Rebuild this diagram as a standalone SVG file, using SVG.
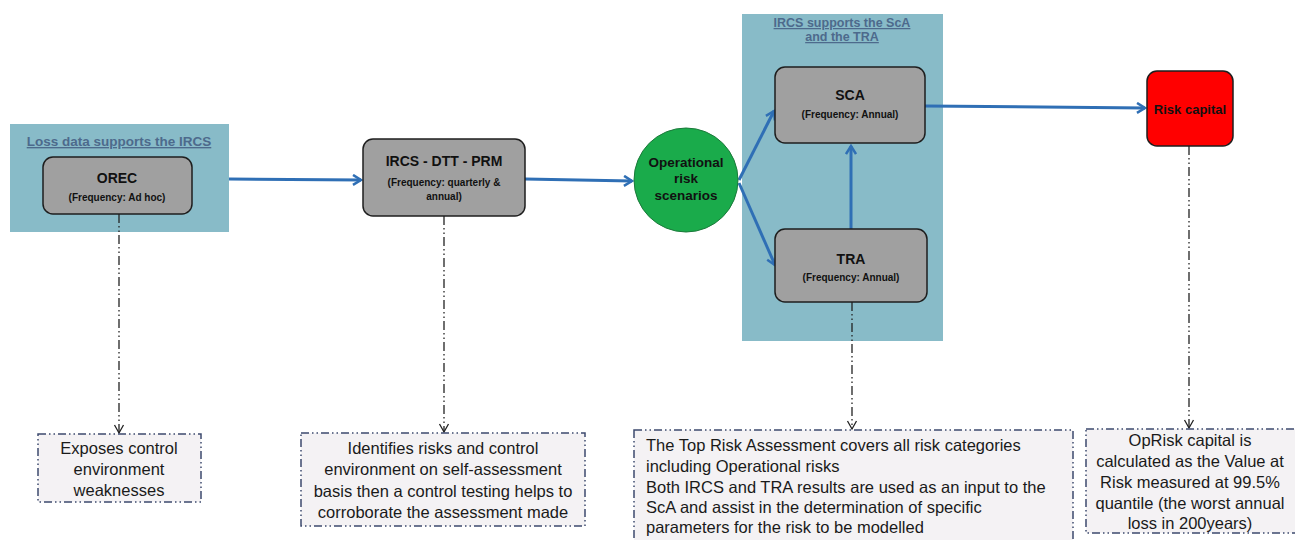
<svg xmlns="http://www.w3.org/2000/svg" width="1295" height="540" viewBox="0 0 1295 540">
<style>
.panel{fill:#88bbc8;}
.ptitle{font-family:"Liberation Sans",Arial,sans-serif;font-size:12.5px;font-weight:bold;fill:#4d6a8c;text-decoration:underline;text-anchor:middle;}
.box{fill:#a0a0a0;stroke:#1e1e1e;stroke-width:1.5;}
.t1{font-family:"Liberation Sans",Arial,sans-serif;font-size:14px;font-weight:bold;fill:#111;text-anchor:middle;}
.t2{font-family:"Liberation Sans",Arial,sans-serif;font-size:10px;font-weight:bold;fill:#111;text-anchor:middle;}
.note{fill:#f4f2f4;stroke:#3c4a6e;stroke-width:1.5;stroke-dasharray:8 3 1.5 3 1.5 3;}
.nt{font-family:"Liberation Sans",Arial,sans-serif;font-size:16.5px;fill:#1a1a1a;}
.flow{stroke:#2f6fb5;stroke-width:3;fill:none;marker-end:url(#ab);}
.dd{stroke:#222;stroke-width:1.3;fill:none;stroke-dasharray:9 3 1.5 3 1.5 3;marker-end:url(#ak);}
</style>
<defs>
<marker id="ab" markerWidth="12" markerHeight="12" refX="10" refY="6" orient="auto" markerUnits="userSpaceOnUse">
<path d="M2,1 L10,6 L2,11" fill="none" stroke="#2f6fb5" stroke-width="2.5"/>
</marker>
<marker id="ak" markerWidth="12" markerHeight="12" refX="10" refY="6" orient="auto" markerUnits="userSpaceOnUse">
<path d="M2,1.5 L10,6 L2,10.5" fill="none" stroke="#222" stroke-width="1.3"/>
</marker>
</defs>
<rect width="1295" height="540" fill="#ffffff"/>

<g id="panel-loss">
<rect class="panel" x="10" y="124" width="219" height="108"/>
<text class="ptitle" x="119" y="146" style="font-size:13.5px">Loss data supports the IRCS</text>
</g>
<g id="panel-ircs">
<rect class="panel" x="742" y="14" width="201" height="327"/>
<text class="ptitle" x="842" y="27">IRCS supports the ScA</text>
<text class="ptitle" x="842" y="41">and the TRA</text>
</g>

<g id="connectors">
<line class="flow" x1="229" y1="179" x2="361" y2="180"/>
<line class="flow" x1="525" y1="179" x2="632" y2="181"/>
<line class="flow" x1="739" y1="180" x2="774" y2="111"/>
<line class="flow" x1="739" y1="183" x2="775" y2="265"/>
<line class="flow" x1="851" y1="229" x2="851" y2="146"/>
<line class="flow" x1="925" y1="106" x2="1145" y2="108"/>
<line class="dd" x1="119" y1="214" x2="119" y2="433"/>
<line class="dd" x1="444" y1="216" x2="444" y2="432"/>
<line class="dd" x1="852" y1="302" x2="852" y2="429"/>
<line class="dd" x1="1189" y1="146" x2="1189" y2="428"/>
</g>

<g id="orec">
<rect class="box" x="43" y="157" width="149" height="57" rx="10"/>
<text class="t1" x="117" y="183">OREC</text>
<text class="t2" x="117" y="201">(Frequency: Ad hoc)</text>
</g>
<g id="ircs">
<rect class="box" x="363" y="139" width="162" height="77" rx="10"/>
<text class="t1" x="444" y="166">IRCS - DTT - PRM</text>
<text class="t2" x="444" y="186">(Frequency: quarterly &amp;</text>
<text class="t2" x="444" y="200">annual)</text>
</g>
<g id="scenarios">
<circle cx="686" cy="180" r="52" fill="#1aab4b" stroke="#1a7a3a" stroke-width="1"/>
<text class="t1" x="686" y="167" style="font-size:13.5px">Operational</text>
<text class="t1" x="686" y="183" style="font-size:13.5px">risk</text>
<text class="t1" x="686" y="200" style="font-size:13.5px">scenarios</text>
</g>
<g id="sca">
<rect class="box" x="775" y="67" width="150" height="76" rx="10"/>
<text class="t1" x="850" y="100">SCA</text>
<text class="t2" x="850" y="118">(Frequency: Annual)</text>
</g>
<g id="tra">
<rect class="box" x="775" y="229" width="152" height="73" rx="10"/>
<text class="t1" x="851" y="264">TRA</text>
<text class="t2" x="851" y="281">(Frequency: Annual)</text>
</g>
<g id="riskcapital">
<rect x="1147" y="71" width="86" height="75" rx="10" fill="#ff0000" stroke="#1e1e1e" stroke-width="1.5"/>
<text class="t1" x="1190" y="114" style="font-size:13px">Risk capital</text>
</g>

<g id="note-orec">
<rect class="note" x="38" y="434" width="163" height="68"/>
<text class="nt" x="119" y="454" text-anchor="middle">Exposes control</text>
<text class="nt" x="119" y="475" text-anchor="middle">environment</text>
<text class="nt" x="119" y="496" text-anchor="middle">weaknesses</text>
</g>
<g id="note-ircs">
<rect class="note" x="301" y="433" width="284" height="93"/>
<text class="nt" x="443" y="454" text-anchor="middle">Identifies risks and control</text>
<text class="nt" x="443" y="475" text-anchor="middle">environment on self-assessment</text>
<text class="nt" x="443" y="497" text-anchor="middle">basis then a control testing helps to</text>
<text class="nt" x="443" y="518" text-anchor="middle">corroborate the assessment made</text>
</g>
<g id="note-tra">
<rect class="note" x="634" y="430" width="439" height="115"/>
<text class="nt" x="646" y="451">The Top Risk Assessment covers all risk categories</text>
<text class="nt" x="646" y="472">including Operational risks</text>
<text class="nt" x="646" y="493">Both IRCS and TRA results are used as an input to the</text>
<text class="nt" x="646" y="513">ScA and assist in the determination of specific</text>
<text class="nt" x="646" y="533">parameters for the risk to be modelled</text>
</g>
<g id="note-capital">
<rect class="note" x="1086" y="429" width="215" height="104"/>
<text class="nt" x="1190" y="446" text-anchor="middle">OpRisk capital is</text>
<text class="nt" x="1190" y="467" text-anchor="middle">calculated as the Value at</text>
<text class="nt" x="1190" y="488" text-anchor="middle">Risk measured at 99.5%</text>
<text class="nt" x="1190" y="509" text-anchor="middle">quantile (the worst annual</text>
<text class="nt" x="1190" y="529" text-anchor="middle">loss in 200years)</text>
</g>
</svg>
